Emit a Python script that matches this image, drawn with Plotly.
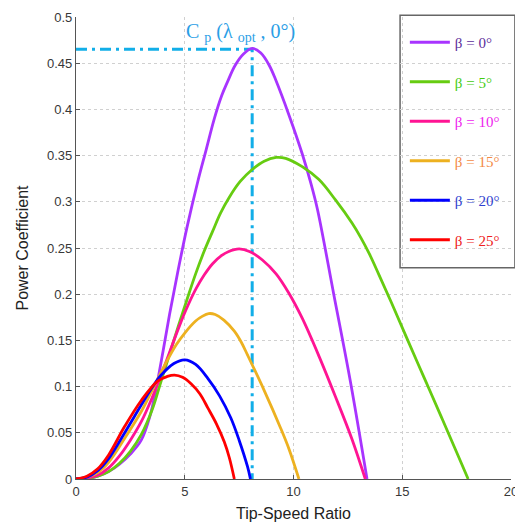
import plotly.graph_objects as go

# ---- data ----
betas = ["0", "5", "10", "15", "20", "25"]

lam_b0 = [0, 0.5, 1.0, 1.5, 2.0, 2.5, 3.0, 3.4, 3.7, 4.0, 4.3, 4.67, 5.1, 5.6, 5.98, 6.36, 6.7, 6.97, 7.3, 7.7, 8.1, 8.5, 8.9, 9.18, 9.79, 10.4, 10.8, 11.1, 11.85, 12.62, 13.38]
cp_b0 = [0, 0.0005, 0.003, 0.008, 0.016, 0.027, 0.042, 0.068, 0.1, 0.138, 0.178, 0.223, 0.272, 0.322, 0.356, 0.39, 0.415, 0.43, 0.447, 0.46, 0.466, 0.461, 0.447, 0.432, 0.394, 0.352, 0.32, 0.292, 0.2, 0.105, 0]

lam_b5 = [0, 0.5, 1.0, 1.5, 2.0, 2.5, 3.0, 3.5, 3.9, 4.3, 4.7, 5.1, 5.5, 5.9, 6.28, 6.65, 7.05, 7.55, 8.1, 8.65, 9.2, 9.64, 10.4, 11.17, 11.93, 12.69, 13.1, 13.5, 13.91, 14.5, 15.2, 16.0, 16.8, 17.5, 18.03]
cp_b5 = [0, 0.0005, 0.003, 0.008, 0.017, 0.03, 0.048, 0.075, 0.105, 0.135, 0.165, 0.194, 0.222, 0.247, 0.268, 0.288, 0.305, 0.322, 0.335, 0.344, 0.348, 0.347, 0.338, 0.324, 0.302, 0.277, 0.261, 0.243, 0.222, 0.191, 0.153, 0.11, 0.067, 0.029, 0]

lam_b10 = [0, 0.5, 1.0, 1.5, 2.0, 2.5, 3.0, 3.5, 4.0, 4.76, 5.15, 5.52, 5.9, 6.28, 6.7, 7.0, 7.5, 8.0, 8.57, 9.2, 9.79, 10.4, 11.17, 11.93, 12.69, 13.3]
cp_b10 = [0, 0.001, 0.004, 0.012, 0.025, 0.042, 0.062, 0.088, 0.118, 0.166, 0.188, 0.206, 0.221, 0.233, 0.242, 0.246, 0.249, 0.246, 0.237, 0.222, 0.201, 0.174, 0.133, 0.089, 0.043, 0]

lam_b15 = [0, 0.5, 1.0, 1.5, 2.24, 3.0, 3.5, 4.12, 4.6, 5.0, 5.5, 5.8, 6.1, 6.4, 6.8, 7.28, 7.6, 7.89, 8.65, 9.41, 9.8, 10.25]
cp_b15 = [0, 0.002, 0.007, 0.018, 0.044, 0.073, 0.096, 0.125, 0.145, 0.158, 0.171, 0.176, 0.179, 0.178, 0.172, 0.16, 0.148, 0.134, 0.096, 0.055, 0.032, 0]

lam_b20 = [0, 0.5, 1.0, 1.5, 2.24, 3.0, 3.5, 3.9, 4.5, 5.0, 5.5, 6.06, 6.6, 7.12, 7.5, 7.89, 8.02]
cp_b20 = [0, 0.002, 0.009, 0.022, 0.05, 0.08, 0.099, 0.112, 0.125, 0.129, 0.124, 0.109, 0.09, 0.066, 0.042, 0.013, 0]

lam_b25 = [0, 0.5, 1.0, 1.5, 2.24, 3.0, 3.75, 4.2, 4.53, 4.9, 5.29, 5.7, 6.06, 6.45, 6.82, 7.05, 7.28]
cp_b25 = [0, 0.003, 0.011, 0.026, 0.057, 0.085, 0.106, 0.111, 0.1125, 0.11, 0.103, 0.092, 0.077, 0.06, 0.04, 0.023, 0]

lam_opt = 8.1
cp_max = 0.465

x_ticks = [0, 5, 10, 15, 20]
y_ticks = [0, 0.05, 0.1, 0.15, 0.2, 0.25, 0.3, 0.35, 0.4, 0.45, 0.5]
y_tick_text = ["0", "0.05", "0.1", "0.15", "0.2", "0.25", "0.3", "0.35", "0.4", "0.45", "0.5"]

# ---- styling ----
line_colors = ["#a834ff", "#66cc11", "#ff1493", "#edb120", "#0000ff", "#ff0000"]
text_colors = ["#5b2d9a", "#44cc11", "#ee22ee", "#f38a45", "#2f3fcf", "#ee2020"]
marker_color = "#12aee8"

series = [
    (lam_b0, cp_b0), (lam_b5, cp_b5), (lam_b10, cp_b10),
    (lam_b15, cp_b15), (lam_b20, cp_b20), (lam_b25, cp_b25),
]

fig = go.Figure()

# optimum marker lines
fig.add_trace(go.Scatter(
    x=[0, lam_opt, lam_opt], y=[cp_max, cp_max, 0],
    mode="lines", line=dict(color=marker_color, width=3, dash="11px,5px,3px,5px"),
    showlegend=False, hoverinfo="skip",
))

for i, (b, (lx, cy)) in enumerate(zip(betas, series)):
    fig.add_trace(go.Scatter(
        x=lx, y=cy, mode="lines",
        line=dict(color=line_colors[i], width=2.8, shape="spline", smoothing=1.0),
        name=f'<span style="color:{text_colors[i]}">β = {b}°</span>',
        legendgroup=f"g{i}",
    ))

fig.add_annotation(
    x=lam_opt - 0.55, y=cp_max, xref="x", yref="y",
    text="C <sub>p</sub> (λ <sub>opt</sub> , 0°)",
    showarrow=False, yanchor="bottom", yshift=2,
    font=dict(family="Liberation Serif", size=20, color="#2a9ee6"),
)

# legend frame
fig.add_shape(
    type="rect", xref="paper", yref="paper",
    x0=0.745, x1=1.009, y0=0.457, y1=1.004,
    line=dict(color="#666666", width=1.5), fillcolor="white", layer="between",
)

axis_common = dict(
    showline=True, linecolor="#555555", linewidth=1.3,
    ticks="inside", ticklen=4, tickcolor="#555555", tickwidth=1,
    showgrid=True, gridcolor="#d0d0d0", gridwidth=1, griddash="dot",
    zeroline=False, mirror=False, automargin=False,
    tickfont=dict(family="Liberation Sans", size=13, color="#383838"),
)

# the page body adds an 8px offset; the figure is sized so the plot area
# lands at 76..511 x 17..479 in the 523x527 window
fig.update_layout(
    width=515, height=519,
    margin=dict(l=68, r=12, t=9, b=48, autoexpand=False),
    paper_bgcolor="white", plot_bgcolor="white",
    xaxis=dict(range=[0, 20], tickvals=x_ticks,
               title=dict(text="Tip-Speed Ratio", standoff=10,
                          font=dict(family="Liberation Sans", size=16, color="#222222")),
               **axis_common),
    yaxis=dict(range=[0, 0.5], tickvals=y_ticks, ticktext=y_tick_text,
               title=dict(text="Power Coefficient", standoff=14,
                          font=dict(family="Liberation Sans", size=16, color="#222222")),
               **axis_common),
    legend=dict(
        x=0.756, y=0.9805, xanchor="left", yanchor="top",
        bgcolor="rgba(0,0,0,0)", borderwidth=0,
        font=dict(family="Liberation Serif", size=15),
        tracegroupgap=17, itemwidth=40,
    ),
    showlegend=True,
)

fig.write_html("out.html")
